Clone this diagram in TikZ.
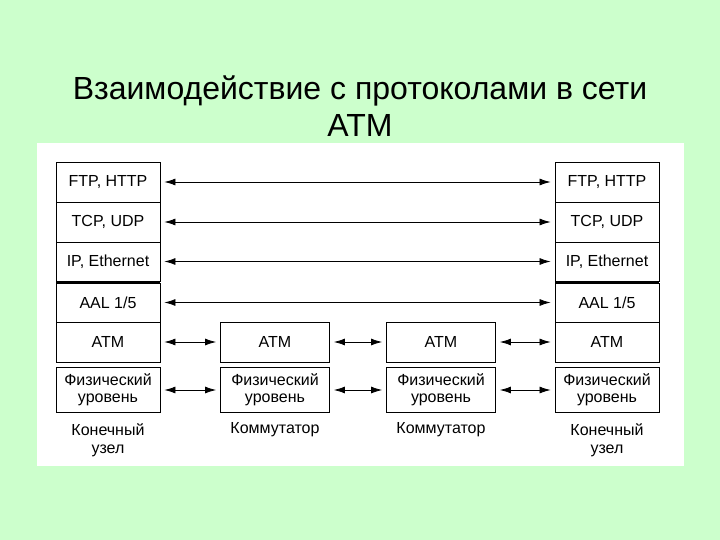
\documentclass[tikz,border=0pt]{standalone}
\usepackage{fontspec}
\setmainfont{Liberation Sans}
\usetikzlibrary{arrows.meta}
\definecolor{bg}{HTML}{CCFFCC}
\begin{document}
\begin{tikzpicture}[x=1pt,y=-1pt,
  box/.style={draw,line width=0.9pt,fill=white,inner sep=0pt,font=\fontsize{16}{17}\selectfont,align=center},
  lbl/.style={font=\fontsize{16}{18}\selectfont,align=center},
  arr/.style={{Latex[length=11pt,width=7pt]}-{Latex[length=11pt,width=7pt]},line width=0.8pt}]
\fill[bg] (0,0) rectangle (720,540);
\useasboundingbox (0,0) rectangle (720,540);
\fill[white] (37,143) rectangle (684,466);
\node[font=\fontsize{32}{37}\selectfont,align=center] (title) at (360,106) {Взаимодействие с протоколами в сети\\ATM};
% left stack
\foreach \n/\t/\a/\b in {lf/{FTP, HTTP}/162/202, lt/{TCP, UDP}/202/242, li/{IP, Ethernet}/242/281, la/{AAL 1/5}/283/322, lm/ATM/322/362}{
  \node[box,minimum width=104pt,minimum height={\b-\a}] (\n) at (108,{(\a+\b)/2}) {\t};
}
\foreach \n/\t/\a/\b in {rf/{FTP, HTTP}/162/202, rt/{TCP, UDP}/202/242, ri/{IP, Ethernet}/242/281, ra/{AAL 1/5}/283/322, rm/ATM/322/362}{
  \node[box,minimum width=104pt,minimum height={\b-\a}] (\n) at (607,{(\a+\b)/2}) {\t};
}
\draw[line width=2pt] (56,282) -- (160,282);
\draw[line width=2pt] (555,282) -- (659,282);
\node[box,minimum width=104pt,minimum height=45pt] (lp) at (108,390) {Физический\\уровень};
\node[box,minimum width=104pt,minimum height=45pt] (rp) at (607,390) {Физический\\уровень};
\node[box,minimum width=109pt,minimum height=40pt] (s1m) at (275,342) {ATM};
\node[box,minimum width=109pt,minimum height=45pt] (s1p) at (275,390) {Физический\\уровень};
\node[box,minimum width=109pt,minimum height=40pt] (s2m) at (441,342) {ATM};
\node[box,minimum width=109pt,minimum height=45pt] (s2p) at (441,390) {Физический\\уровень};
\node[lbl] (ln) at (108,440) {Конечный\\узел};
\node[lbl] (rn) at (607,440) {Конечный\\узел};
\node[lbl] (s1n) at (275,430) {Коммутатор};
\node[lbl] (s2n) at (441,430) {Коммутатор};
\foreach \a/\b in {lf/rf, lt/rt, li/ri, la/ra, lm/s1m, s1m/s2m, s2m/rm, lp/s1p, s1p/s2p, s2p/rp}{
  \draw[arr] ([xshift=4pt]\a.east) -- ([xshift=-4pt]\b.west);
}
\end{tikzpicture}
\end{document}
